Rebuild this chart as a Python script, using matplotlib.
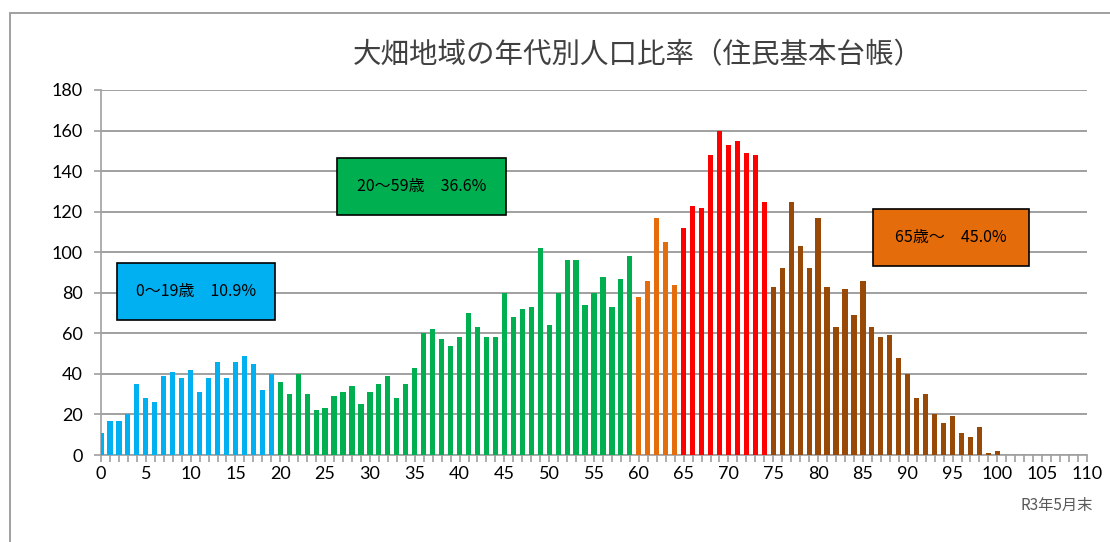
import matplotlib
matplotlib.use("Agg")
import matplotlib.pyplot as plt
from matplotlib.patches import Rectangle
from matplotlib.ticker import MultipleLocator

plt.rcParams['font.family'] = ['Noto Sans CJK JP', 'DejaVu Sans']

# ---- data ----
ages = list(range(0, 111))
counts = [11, 17, 17, 20, 35, 28, 26, 39, 41, 38,
          42, 31, 38, 46, 38, 46, 49, 45, 32, 40,
          36, 30, 40, 30, 22, 23, 29, 31, 34, 25,
          31, 35, 39, 28, 35, 43, 60, 62, 57, 54,
          58, 70, 63, 58, 58, 80, 68, 72, 73, 102,
          64, 80, 96, 96, 74, 80, 88, 73, 87, 98,
          78, 86, 117, 105, 84, 112, 123, 122, 148, 160,
          153, 155, 149, 148, 125, 83, 92, 125, 103, 92,
          117, 83, 63, 82, 69, 86, 63, 58, 59, 48,
          40, 28, 30, 20, 16, 19, 11, 9, 14, 1,
          2, 0, 0, 0, 0, 0, 0, 0, 0, 0, 0]
group_labels = ["0〜19歳　10.9%", "20〜59歳　36.6%", "65歳〜　45.0%"]
title = "大畑地域の年代別人口比率（住民基本台帳）"
note = "R3年5月末"
x_ticks = list(range(0, 111, 5))
y_ticks = list(range(0, 181, 20))

C_BLUE = "#00B0F0"
C_GREEN = "#00B050"
C_ORANGE = "#E46C0A"
C_RED = "#FF0000"
C_BROWN = "#984807"

def color_for(a):
    if a < 20:
        return C_BLUE
    if a < 60:
        return C_GREEN
    if a < 65:
        return C_ORANGE
    if a < 75:
        return C_RED
    return C_BROWN

colors = [color_for(a) for a in ages]

W, H = 1110, 542
fig = plt.figure(figsize=(W / 100, H / 100), dpi=100)

def fx(px):
    return px / W

def fy(py):
    return 1 - py / H

ax = fig.add_axes([fx(101), fy(455), fx(1087) - fx(101), fy(90) - fy(455)])
ax.bar(ages, counts, width=0.58, color=colors, zorder=3)
ax.set_xlim(0, 110)
ax.set_ylim(0, 180)
ax.set_yticks(y_ticks)
ax.set_xticks(x_ticks)
ax.xaxis.set_minor_locator(MultipleLocator(1))
ax.grid(axis='y', color='#A0A0A0', linewidth=1.4, zorder=0)
for s in ['top', 'right']:
    ax.spines[s].set_visible(False)
for s in ['left', 'bottom']:
    ax.spines[s].set_color('#A0A0A0')
    ax.spines[s].set_linewidth(1.2)
ax.tick_params(axis='y', length=5, width=1.2, color='#A0A0A0', labelsize=13,
               pad=8, labelcolor='black')
ax.tick_params(axis='x', which='both', length=5, width=1.2, color='#A0A0A0',
               direction='out')
ax.tick_params(axis='x', which='major', labelsize=13, pad=3, labelcolor='black')
for lbl in ax.get_xticklabels() + ax.get_yticklabels():
    lbl.set_fontfamily(['Lato', 'DejaVu Sans'])

# title
fig.text(fx(638), fy(55), title, ha='center', va='center', fontsize=20.5,
         color='#404040')

# group boxes
boxes = [((117, 263, 275, 320), C_BLUE, group_labels[0]),
         ((337, 158, 506, 215), C_GREEN, group_labels[1]),
         ((873, 209, 1029, 266), C_ORANGE, group_labels[2])]
for (x0, y0, x1, y1), c, t in boxes:
    fig.patches.append(Rectangle((fx(x0), fy(y1)), fx(x1) - fx(x0), fy(y0) - fy(y1),
                                 transform=fig.transFigure, facecolor=c,
                                 edgecolor='black', linewidth=1.2, zorder=5))
    fig.text(fx((x0 + x1) / 2), fy((y0 + y1) / 2), t, ha='center', va='center',
             fontsize=11.5, color='black', zorder=6)

# note
fig.text(fx(1093), fy(505), note, ha='right', va='center', fontsize=11,
         color='#595959')

# outer border
fig.patches.append(Rectangle((fx(10), fy(560)), fx(1130) - fx(10), fy(13) - fy(560),
                             transform=fig.transFigure, facecolor='none',
                             edgecolor='#A0A0A0', linewidth=1.4, zorder=0))

fig.savefig("out.png", dpi=100)
